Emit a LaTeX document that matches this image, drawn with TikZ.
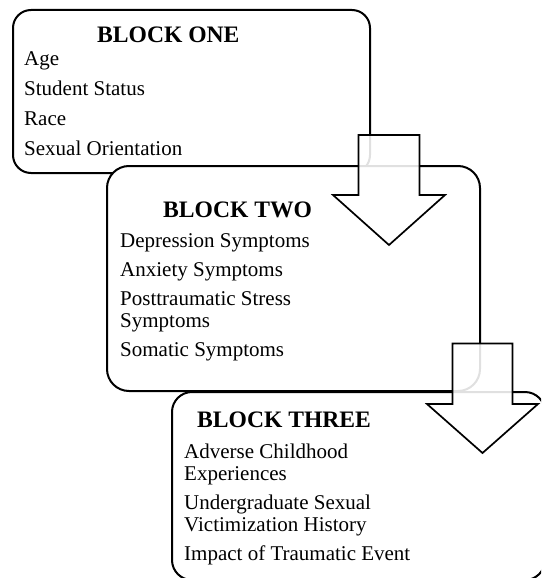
\documentclass[tikz,border=0pt]{standalone}
\usepackage{fontspec}
\setmainfont{Liberation Serif}
\begin{document}
\begin{tikzpicture}[x=1pt,y=-1pt,
  blockbox/.style={draw=black, line width=2pt, fill=white, inner sep=0pt},
  blocktitle/.style={anchor=base west, inner sep=0pt, font=\fontsize{23.6}{26}\selectfont\bfseries},
  item/.style={anchor=base west, inner sep=0pt, font=\fontsize{21}{23}\selectfont},
  bigarrow/.style={draw=black, line width=1.7pt, fill=white, fill opacity=0.88, line join=miter}]
\useasboundingbox (0,0) rectangle (541,578);
\clip (0,0) rectangle (541,578);
% blocks
\node[blockbox, rounded corners=18pt, minimum width=357pt, minimum height=163pt] (b1) at (191.5,91.5) {};
\node[blockbox, rounded corners=22pt, minimum width=373pt, minimum height=225pt] (b2) at (293.5,278.5) {};
\node[blockbox, rounded corners=20pt, minimum width=373pt, minimum height=188pt] (b3) at (358.5,486) {};
% block one texts
\node[blocktitle] (t1) at (97,43) {BLOCK ONE};
\node[item] (a1) at (24,66) {Age};
\node[item] (a2) at (24,95.5) {Student Status};
\node[item] (a3) at (24,125) {Race};
\node[item] (a4) at (24,155) {Sexual Orientation};
% block two texts
\node[blocktitle] (t2) at (163,217) {BLOCK TWO};
\node[item] (c1) at (120,247.5) {Depression Symptoms};
\node[item] (c2) at (120,276.5) {Anxiety Symptoms};
\node[item] (c3) at (120,305) {Posttraumatic Stress};
\node[item] (c3b) at (120,327) {Symptoms};
\node[item] (c4) at (120,356) {Somatic Symptoms};
% block three texts
\node[blocktitle] (t3) at (197,427) {BLOCK THREE};
\node[item] (d1) at (184,458) {Adverse Childhood};
\node[item] (d1b) at (184,480.5) {Experiences};
\node[item] (d2) at (184,509) {Undergraduate Sexual};
\node[item] (d2b) at (184,531) {Victimization History};
\node[item] (d3) at (184,560) {Impact of Traumatic Event};
% block arrows
\draw[bigarrow] (358.5,135) -- (419.5,135) -- (419.5,195) -- (445,195) -- (389,245) -- (333,195) -- (358.5,195) -- cycle;
\draw[bigarrow] (452.5,343.5) -- (512.5,343.5) -- (512.5,404) -- (538,404) -- (482.5,453) -- (427,404) -- (452.5,404) -- cycle;
\end{tikzpicture}
\end{document}
